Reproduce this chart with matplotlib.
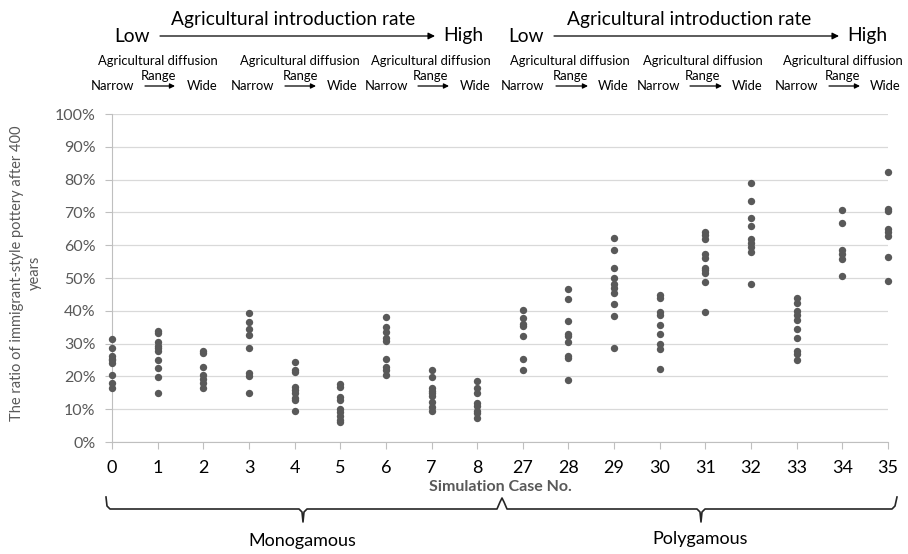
import matplotlib.pyplot as plt
from matplotlib.ticker import FuncFormatter
from matplotlib.lines import Line2D

plt.rcParams['font.family'] = ['Lato', 'DejaVu Sans']

# simulation case labels on the x axis
cases = ['0', '1', '2', '3', '4', '5', '6', '7', '8',
         '27', '28', '29', '30', '31', '32', '33', '34', '35']

# ratio of immigrant-style pottery (%) for each run of each case
case_0 = [31.4, 28.8, 26.2, 25.4, 24.9, 24.2, 20.3, 17.9, 16.6]
case_1 = [33.8, 33.1, 30.6, 29.4, 28.8, 27.6, 24.9, 22.7, 19.9, 15.0]
case_2 = [27.8, 27.0, 22.8, 20.3, 19.2, 17.9, 16.4]
case_3 = [39.2, 36.6, 34.3, 32.6, 28.6, 21.0, 20.2, 15.0]
case_4 = [24.4, 22.0, 21.2, 16.9, 15.9, 14.9, 13.3, 12.7, 9.3]
case_5 = [17.6, 16.7, 13.7, 12.9, 10.0, 9.0, 8.0, 6.8, 6.0]
case_6 = [38.2, 35.1, 33.6, 31.6, 30.8, 25.3, 23.0, 21.8, 20.5]
case_7 = [21.8, 19.9, 16.4, 15.6, 14.9, 14.1, 12.1, 10.6, 9.3]
case_8 = [18.7, 16.4, 14.9, 11.8, 11.0, 9.6, 8.8, 7.3]
case_27 = [40.1, 37.8, 36.1, 35.4, 32.2, 25.3, 21.8]
case_28 = [46.7, 43.5, 36.8, 33.0, 32.3, 30.5, 26.2, 25.6, 19.0]
case_29 = [62.3, 58.4, 53.2, 50.1, 48.1, 47.1, 45.4, 42.0, 38.3, 28.7]
case_30 = [44.7, 43.9, 39.6, 38.8, 35.8, 33.0, 30.0, 28.5, 22.4]
case_31 = [64.0, 63.0, 61.8, 57.2, 56.2, 53.0, 52.3, 51.5, 48.8, 39.6]
case_32 = [78.9, 73.6, 68.2, 66.0, 62.0, 60.8, 59.5, 57.9, 48.3]
case_33 = [43.9, 42.4, 39.8, 38.8, 37.3, 34.3, 31.8, 27.7, 26.9, 25.1]
case_34 = [70.7, 66.7, 58.6, 57.4, 55.9, 50.7]
case_35 = [82.4, 71.1, 70.3, 65.0, 64.0, 62.8, 56.4, 49.1]

all_cases = [case_0, case_1, case_2, case_3, case_4, case_5, case_6, case_7, case_8,
             case_27, case_28, case_29, case_30, case_31, case_32, case_33, case_34, case_35]

W, H = 908, 554
GRAY = '#595959'


def fp(x, y):
    # pixel position (from top-left) -> figure fraction
    return (x / W, 1 - y / H)


fig = plt.figure(figsize=(W / 100, H / 100), dpi=100)
ax = fig.add_axes([112 / W, 1 - 442 / H, 776 / W, 328 / H])

for i, vals in enumerate(all_cases):
    ax.scatter([i] * len(vals), vals, s=28, color=GRAY, linewidths=0,
               clip_on=False, zorder=3)

ax.set_xlim(0, len(cases) - 1)
ax.set_ylim(0, 100)
ax.set_xticks(range(len(cases)))
ax.set_xticklabels(cases)
ax.set_yticks(range(0, 101, 10))
ax.yaxis.set_major_formatter(FuncFormatter(lambda v, p: '%d%%' % v))
ax.grid(axis='y', color='#d9d9d9', lw=0.9)
ax.set_axisbelow(True)
for s in ['top', 'right']:
    ax.spines[s].set_visible(False)
for s in ['left', 'bottom']:
    ax.spines[s].set_color('#bfbfbf')
ax.tick_params(axis='y', length=5, color='#bfbfbf', labelcolor=GRAY,
               labelsize=11.5, pad=7)
ax.tick_params(axis='x', length=5, color='#bfbfbf', labelcolor='black',
               labelsize=13, pad=8)

fig.text(*fp(500, 487), 'Simulation Case No.', ha='center', va='center',
         fontsize=11.5, fontweight='bold', color=GRAY)
fig.text(*fp(26, 273), 'The ratio of immigrant-style pottery after 400\nyears',
         rotation=90, ha='center', va='center', multialignment='center',
         fontsize=10.5, color=GRAY, linespacing=1.3)

# braces below the axis
brace_pts = [(106, 497), (107, 506), (110, 509), (299, 509), (302, 512), (303, 522),
             (304, 512), (307, 509), (497, 509), (500, 502), (502, 498), (504, 502),
             (507, 509), (697, 509), (700, 512), (701, 522), (702, 512), (705, 509),
             (892, 509), (895, 506), (897, 497)]
bx = [p[0] / W for p in brace_pts]
by = [1 - p[1] / H for p in brace_pts]
fig.add_artist(Line2D(bx, by, color='#262626', lw=1.2))
fig.text(*fp(302, 541), 'Monogamous', ha='center', va='center', fontsize=13)
fig.text(*fp(700, 539), 'Polygamous', ha='center', va='center', fontsize=13)


def arrow(x0, x1, y, hw):
    ax.annotate('', xy=fp(x1, y), xytext=fp(x0, y), xycoords='figure fraction',
                textcoords='figure fraction', annotation_clip=False,
                arrowprops=dict(arrowstyle='-|>,head_length=%g,head_width=%g' % (hw * 2, hw),
                                color='black', lw=0.9, shrinkA=0, shrinkB=0))


# top header: introduction rate
for cx, low_x, a0, a1, high_x in [(293, 132, 160, 435, 463), (689, 526, 554, 839, 867)]:
    fig.text(*fp(cx, 19), 'Agricultural introduction rate', ha='center', va='center',
             fontsize=13.8)
    fig.text(*fp(low_x, 36), 'Low', ha='center', va='center', fontsize=13.8)
    fig.text(*fp(high_x, 36), 'High', ha='center', va='center', fontsize=13.8)
    arrow(a0, a1, 36, 0.2)

# second header row: diffusion range
for cx, nx, a0, a1, wx in [(158, 113, 145, 175, 202), (300, 253, 285, 316, 342),
                           (431, 387, 418, 449, 475), (570, 523, 556, 588, 613),
                           (703, 658, 690, 722, 747), (843, 797, 829, 860, 885)]:
    fig.text(*fp(cx, 61), 'Agricultural diffusion', ha='center', va='center', fontsize=9.4)
    fig.text(*fp(cx, 76), 'Range', ha='center', va='center', fontsize=9.4)
    fig.text(*fp(nx, 86), 'Narrow', ha='center', va='center', fontsize=9.4)
    fig.text(*fp(wx, 86), 'Wide', ha='center', va='center', fontsize=9.4)
    arrow(a0, a1, 86, 0.15)

fig.savefig('out.png', dpi=100)
